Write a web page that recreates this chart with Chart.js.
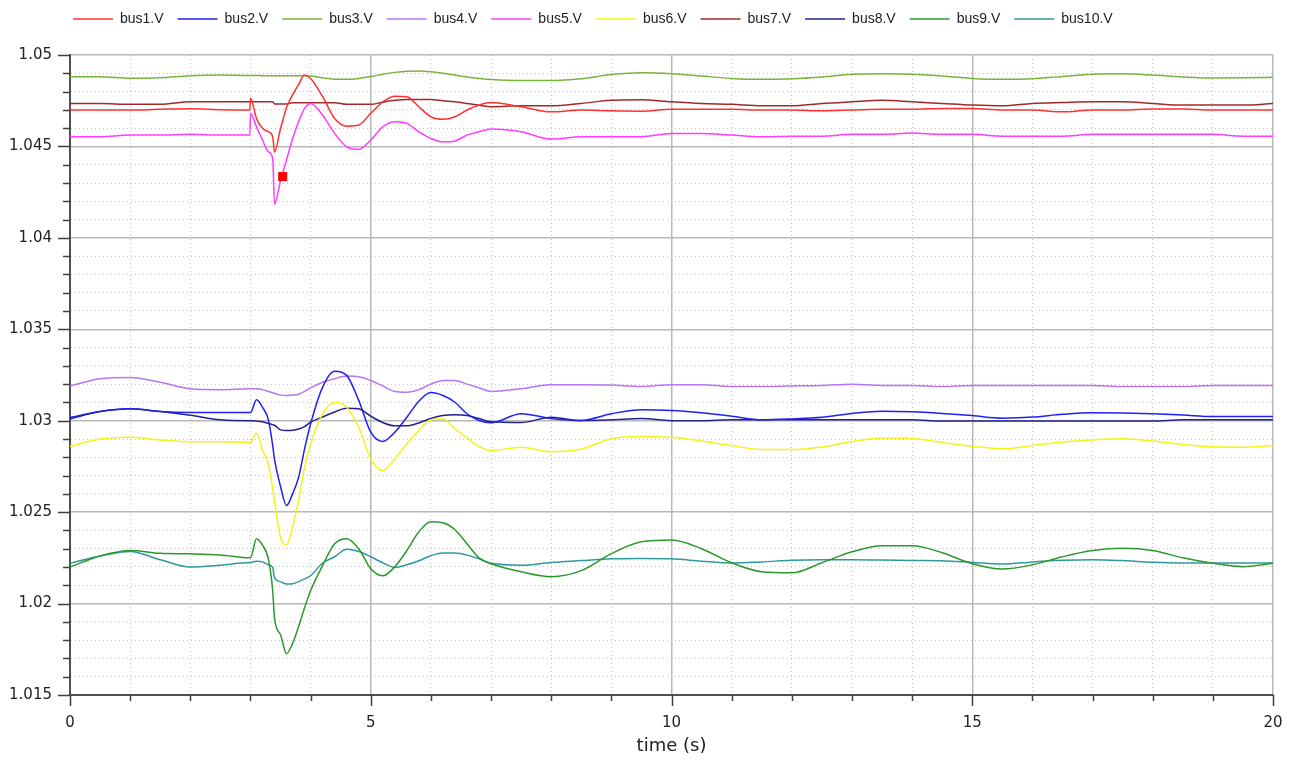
<!DOCTYPE html>
<html>
<head>
<meta charset="utf-8">
<title>bus voltages</title>
<script src="https://cdn.jsdelivr.net/npm/chart.js@4.4.1/dist/chart.umd.min.js"></script>
<style>
  html, body { margin: 0; padding: 0; background: #fff; }
  #wrap { width: 1290px; height: 760px; position: relative; }
</style>
</head>
<body>
<div id="wrap"><canvas id="chart"></canvas></div>
<script>
// sample times (s), denser around the fault at t = 3 s
const times = [0, 0.5, 1, 1.5, 2, 2.5, 2.99,
  3, 3.1, 3.2, 3.3, 3.37, 3.4, 3.5, 3.6, 3.7, 3.8, 3.9,
  4, 4.2, 4.4, 4.6, 4.8, 5, 5.2, 5.4, 5.6, 5.8, 6, 6.2, 6.4, 6.6, 6.8, 7,
  7.5, 8, 8.5, 9, 9.5, 10, 10.5, 11, 11.5, 12, 12.5, 13, 13.5, 14, 14.5, 15, 15.5, 16, 16.5, 17, 17.5, 18, 18.5, 19, 19.5, 20];

const bus1 = [1.04699, 1.04699, 1.04699, 1.04703, 1.04706, 1.04701, 1.04699,
  1.04763, 1.04653, 1.04599, 1.0458, 1.04553, 1.0447, 1.04597, 1.04713, 1.04782, 1.04838, 1.0489,
  1.04872, 1.04772, 1.04653, 1.04611, 1.04617, 1.04681, 1.04744, 1.04775, 1.04772, 1.04717, 1.04662, 1.04648, 1.04662, 1.04699, 1.04726, 1.0474,
  1.04717, 1.04689, 1.04699, 1.04695, 1.04693, 1.04703, 1.04703, 1.04703, 1.04699, 1.04699, 1.04695, 1.04699, 1.04703, 1.04703, 1.04708, 1.04708, 1.04699, 1.04699, 1.04689, 1.04699, 1.04699, 1.04705, 1.04705, 1.04699, 1.04699, 1.04699];

const bus2 = [1.0301, 1.0305, 1.03065, 1.0305, 1.03045, 1.03045, 1.03045,
  1.03045, 1.03114, 1.03074, 1.03003, 1.02864, 1.02788, 1.0264, 1.02536, 1.026, 1.0269, 1.02846,
  1.02983, 1.03184, 1.03271, 1.03248, 1.03111, 1.02937, 1.02886, 1.02937, 1.03019, 1.03107, 1.03154, 1.03138, 1.03101, 1.03038, 1.03001, 1.02989,
  1.03038, 1.03012, 1.03001, 1.03038, 1.0306, 1.03056, 1.03043, 1.03025, 1.03005, 1.0301, 1.03019, 1.0304, 1.03052, 1.03049, 1.0304, 1.03028, 1.03014, 1.0302, 1.03035, 1.03043, 1.03042, 1.03038, 1.03031, 1.03023, 1.03023, 1.03023];

const bus3 = [1.04881, 1.04881, 1.04873, 1.04876, 1.04887, 1.0489, 1.04888,
  1.04888, 1.04888, 1.04887, 1.04887, 1.04887, 1.04887, 1.04887, 1.04887, 1.04887, 1.04887, 1.04886,
  1.04885, 1.04875, 1.04868, 1.04867, 1.04872, 1.04882, 1.04895, 1.04905, 1.04911, 1.04912, 1.04908, 1.049, 1.0489, 1.0488, 1.04872, 1.04866,
  1.0486, 1.0486, 1.0487, 1.04893, 1.04903, 1.04898, 1.04885, 1.04872, 1.04867, 1.0487, 1.0488, 1.04895, 1.04898, 1.04895, 1.04885, 1.04872, 1.04867, 1.0487, 1.04883, 1.04895, 1.04897, 1.0489, 1.0488, 1.04874, 1.04875, 1.04878];

const bus4 = [1.0319, 1.0323, 1.03237, 1.0321, 1.03175, 1.0317, 1.03175,
  1.03175, 1.03175, 1.0317, 1.0316, 1.03153, 1.0315, 1.0314, 1.03138, 1.0314, 1.03145, 1.0316,
  1.0318, 1.0321, 1.0323, 1.03244, 1.0324, 1.0322, 1.0319, 1.0316, 1.03156, 1.0317, 1.032, 1.0322, 1.0322, 1.032, 1.0318, 1.0316,
  1.03175, 1.03197, 1.03197, 1.03195, 1.03187, 1.03197, 1.03197, 1.03187, 1.03187, 1.0319, 1.03193, 1.032, 1.03193, 1.03193, 1.03187, 1.03193, 1.03193, 1.03193, 1.03193, 1.03193, 1.03187, 1.03187, 1.03187, 1.03193, 1.03193, 1.03193];

const bus5 = [1.04553, 1.04553, 1.04562, 1.04562, 1.04567, 1.04562, 1.04562,
  1.04681, 1.04607, 1.04535, 1.0447, 1.04434, 1.04184, 1.04312, 1.04427, 1.04542, 1.04635, 1.04708,
  1.04735, 1.04671, 1.04571, 1.04498, 1.04484, 1.04535, 1.04607, 1.04635, 1.04626, 1.0458, 1.04544, 1.04525, 1.0453, 1.04562, 1.0458, 1.04595,
  1.0458, 1.0454, 1.04553, 1.04553, 1.04553, 1.04571, 1.04571, 1.04562, 1.04553, 1.04556, 1.04556, 1.04566, 1.04566, 1.04574, 1.04566, 1.04566, 1.04556, 1.04556, 1.04556, 1.04566, 1.04566, 1.04566, 1.04566, 1.04566, 1.04556, 1.04556];

const bus6 = [1.02859, 1.029, 1.0291, 1.02895, 1.02885, 1.02885, 1.02882,
  1.02882, 1.02932, 1.02839, 1.0276, 1.02628, 1.0256, 1.0236, 1.02322, 1.02417, 1.02563, 1.02745,
  1.02873, 1.03038, 1.03101, 1.03074, 1.02964, 1.02791, 1.02727, 1.02791, 1.02873, 1.02946, 1.03005, 1.03011, 1.02956, 1.02906, 1.02859, 1.02837,
  1.02855, 1.0283, 1.02845, 1.02901, 1.02913, 1.0291, 1.02889, 1.02864, 1.02842, 1.02842, 1.02856, 1.02886, 1.02905, 1.02903, 1.02881, 1.02861, 1.02846, 1.02864, 1.02883, 1.02895, 1.02901, 1.02889, 1.0287, 1.02857, 1.02855, 1.02864];

const bus7 = [1.04735, 1.04735, 1.0473, 1.0473, 1.04744, 1.04744, 1.04744,
  1.04744, 1.04744, 1.04744, 1.04744, 1.04744, 1.04732, 1.04732, 1.04732, 1.04739, 1.04739, 1.04739,
  1.04739, 1.04739, 1.04739, 1.0473, 1.0473, 1.0473, 1.04742, 1.04752, 1.04757, 1.04757, 1.04757, 1.0475, 1.04744, 1.04735, 1.04725, 1.04717,
  1.04722, 1.04722, 1.04735, 1.04752, 1.04755, 1.04744, 1.04735, 1.0473, 1.04722, 1.04722, 1.04735, 1.04744, 1.04752, 1.04744, 1.04735, 1.04726, 1.04722, 1.04735, 1.0474, 1.04744, 1.04744, 1.04735, 1.04726, 1.04726, 1.04726, 1.04735];

const bus8 = [1.03017, 1.0305, 1.03065, 1.0305, 1.0303, 1.03005, 1.03,
  1.03, 1.02998, 1.02994, 1.02985, 1.02978, 1.02975, 1.0295, 1.02946, 1.02948, 1.02955, 1.02968,
  1.02992, 1.0302, 1.03048, 1.03068, 1.03065, 1.03025, 1.0299, 1.02972, 1.02972, 1.02988, 1.03012, 1.03028, 1.03032, 1.03028, 1.03012, 1.02994,
  1.0299, 1.03019, 1.03001, 1.03005, 1.03012, 1.03, 1.03, 1.03005, 1.03005, 1.03005, 1.03005, 1.03005, 1.03005, 1.03005, 1.02998, 1.02998, 1.02998, 1.02998, 1.02998, 1.02998, 1.02998, 1.02998, 1.03005, 1.03005, 1.03005, 1.03005];

const bus9 = [1.022, 1.0226, 1.0229, 1.02275, 1.02272, 1.02266, 1.0225,
  1.0225, 1.02355, 1.0232, 1.0224, 1.0207, 1.0192, 1.0183, 1.01726, 1.01781, 1.01874, 1.01977,
  1.0207, 1.02209, 1.02327, 1.02355, 1.023, 1.0219, 1.02152, 1.02201, 1.0229, 1.02393, 1.02448, 1.02442, 1.02404, 1.02327, 1.0225, 1.02218,
  1.02174, 1.02147, 1.0218, 1.02273, 1.02338, 1.02347, 1.023, 1.02223, 1.02174, 1.02168, 1.02223, 1.02283, 1.02316, 1.02316, 1.02278, 1.02218, 1.02189, 1.02212, 1.02256, 1.0229, 1.02302, 1.0229, 1.0225, 1.0222, 1.02202, 1.0222];

const bus10 = [1.0222, 1.0226, 1.02285, 1.0224, 1.022, 1.0221, 1.02225,
  1.02225, 1.02232, 1.02228, 1.02212, 1.02198, 1.0214, 1.0212, 1.02107, 1.02108, 1.0212, 1.02135,
  1.02152, 1.02222, 1.02256, 1.02297, 1.02285, 1.02256, 1.02223, 1.02198, 1.02212, 1.02234, 1.02262, 1.02277, 1.02276, 1.02265, 1.02245, 1.0222,
  1.0221, 1.02225, 1.02235, 1.02245, 1.02247, 1.02245, 1.02232, 1.02222, 1.02228, 1.02237, 1.0224, 1.0224, 1.02238, 1.02236, 1.02234, 1.02225, 1.02216, 1.02228, 1.02237, 1.0224, 1.02235, 1.02226, 1.02222, 1.02222, 1.02222, 1.02222];

// cursor marker shown in the plot
const markerTime = [3.536];
const markerValue = [1.04335];

const seriesNames = ['bus1.V', 'bus2.V', 'bus3.V', 'bus4.V', 'bus5.V', 'bus6.V', 'bus7.V', 'bus8.V', 'bus9.V', 'bus10.V'];
const seriesValues = [bus1, bus2, bus3, bus4, bus5, bus6, bus7, bus8, bus9, bus10];
const seriesColors = ['#ff3030', '#2020f5', '#78b43c', '#b874f4', '#ff3cff', '#f4f418', '#a02a2a', '#22228e', '#2c982c', '#2e989e'];

const isMajorX = v => Math.abs(v / 5 - Math.round(v / 5)) < 1e-6;
const isMajorY = v => Math.abs(v * 200 - Math.round(v * 200)) < 1e-6;

const datasets = seriesNames.map((name, i) => ({
    label: name,
    data: times.map((t, j) => ({ x: t, y: seriesValues[i][j] })),
    borderColor: seriesColors[i],
    backgroundColor: seriesColors[i],
    borderWidth: 1.5,
    pointRadius: 0,
    fill: false,
    cubicInterpolationMode: 'monotone'
}));

datasets.push({
    label: 'marker',
    data: markerTime.map((t, j) => ({ x: t, y: markerValue[j] })),
    showLine: false,
    pointStyle: 'rect',
    pointRadius: 6.4,
    pointBackgroundColor: '#ff0000',
    pointBorderColor: '#ff0000',
    borderWidth: 0,
    order: -1
});

// outside tick marks: long at labelled values, short elsewhere
const tickMarks = {
    id: 'tickMarks',
    afterDraw(chart) {
        const { ctx, chartArea, scales } = chart;
        ctx.save();
        ctx.strokeStyle = '#404040';
        ctx.lineWidth = 1.5;
        ctx.beginPath();
        scales.y.ticks.forEach(tk => {
            const py = Math.round(scales.y.getPixelForValue(tk.value)) + 0.5;
            const len = isMajorY(tk.value) ? 12 : 7;
            ctx.moveTo(chartArea.left - len, py);
            ctx.lineTo(chartArea.left, py);
        });
        scales.x.ticks.forEach(tk => {
            const px = Math.round(scales.x.getPixelForValue(tk.value)) + 0.5;
            const len = isMajorX(tk.value) ? 11 : 6;
            ctx.moveTo(px, chartArea.bottom);
            ctx.lineTo(px, chartArea.bottom + len);
        });
        ctx.stroke();
        ctx.restore();
    }
};

// legend: fixed height so the plot starts where the reference does,
// and shifted right/up after layout
const legendPlace = {
    id: 'legendPlace',
    beforeInit(chart) {
        const fit = chart.legend.fit;
        chart.legend.fit = function () {
            fit.call(this);
            this.height = 55;
        };
    },
    afterLayout(chart) {
        const lg = chart.legend;
        const w = lg.width, h = lg.height;
        lg.left = 59;
        lg.right = lg.left + w;
        lg.top = -2;
        lg.bottom = lg.top + h;
    }
};

const tickFont = { family: 'DejaVu Sans', size: 15 };

new Chart(document.getElementById('chart'), {
    type: 'line',
    data: { datasets: datasets },
    plugins: [legendPlace, tickMarks],
    options: {
        responsive: true,
        maintainAspectRatio: false,
        animation: false,
        layout: { padding: { left: 0, right: 17, top: 0, bottom: 0 } },
        plugins: {
            tooltip: { enabled: false },
            legend: {
                position: 'top',
                align: 'start',
                labels: {
                    usePointStyle: true,
                    pointStyle: 'line',
                    pointStyleWidth: 40,
                    padding: 14,
                    color: '#222222',
                    font: { family: 'Liberation Sans', size: 14 },
                    filter: item => item.datasetIndex < seriesNames.length
                }
            }
        },
        scales: {
            x: {
                type: 'linear',
                min: 0,
                max: 20,
                afterFit: scale => {
                    scale.height = 65;
                    scale.paddingRight = 0;
                },
                ticks: {
                    stepSize: 1,
                    autoSkip: false,
                    maxRotation: 0,
                    padding: 19,
                    color: '#222222',
                    font: tickFont,
                    callback: v => isMajorX(v) ? String(v) : ''
                },
                grid: {
                    drawTicks: false,
                    color: c => isMajorX(c.tick.value) ? '#b8b8b8' : '#c4c4c4',
                    lineWidth: c => isMajorX(c.tick.value) ? 1.5 : 1
                },
                border: {
                    color: '#505050',
                    width: 2,
                    dash: c => (c.tick && !isMajorX(c.tick.value)) ? [1, 3] : []
                },
                title: {
                    display: true,
                    text: 'time (s)',
                    color: '#222222',
                    font: { family: 'DejaVu Sans', size: 18 },
                    padding: { top: 0, bottom: 3 }
                }
            },
            y: {
                type: 'linear',
                min: 1.015,
                max: 1.05,
                afterFit: scale => { scale.width = 70; },
                ticks: {
                    stepSize: 0.001,
                    autoSkip: false,
                    padding: 18,
                    color: '#222222',
                    font: tickFont,
                    callback: v => isMajorY(v) ? String(+v.toFixed(3)) : ''
                },
                grid: {
                    drawTicks: false,
                    color: c => isMajorY(c.tick.value) ? '#b8b8b8' : '#c4c4c4',
                    lineWidth: c => isMajorY(c.tick.value) ? 1.5 : 1
                },
                border: {
                    color: '#505050',
                    width: 2,
                    dash: c => (c.tick && !isMajorY(c.tick.value)) ? [1, 3] : []
                }
            }
        }
    }
});
</script>
</body>
</html>
